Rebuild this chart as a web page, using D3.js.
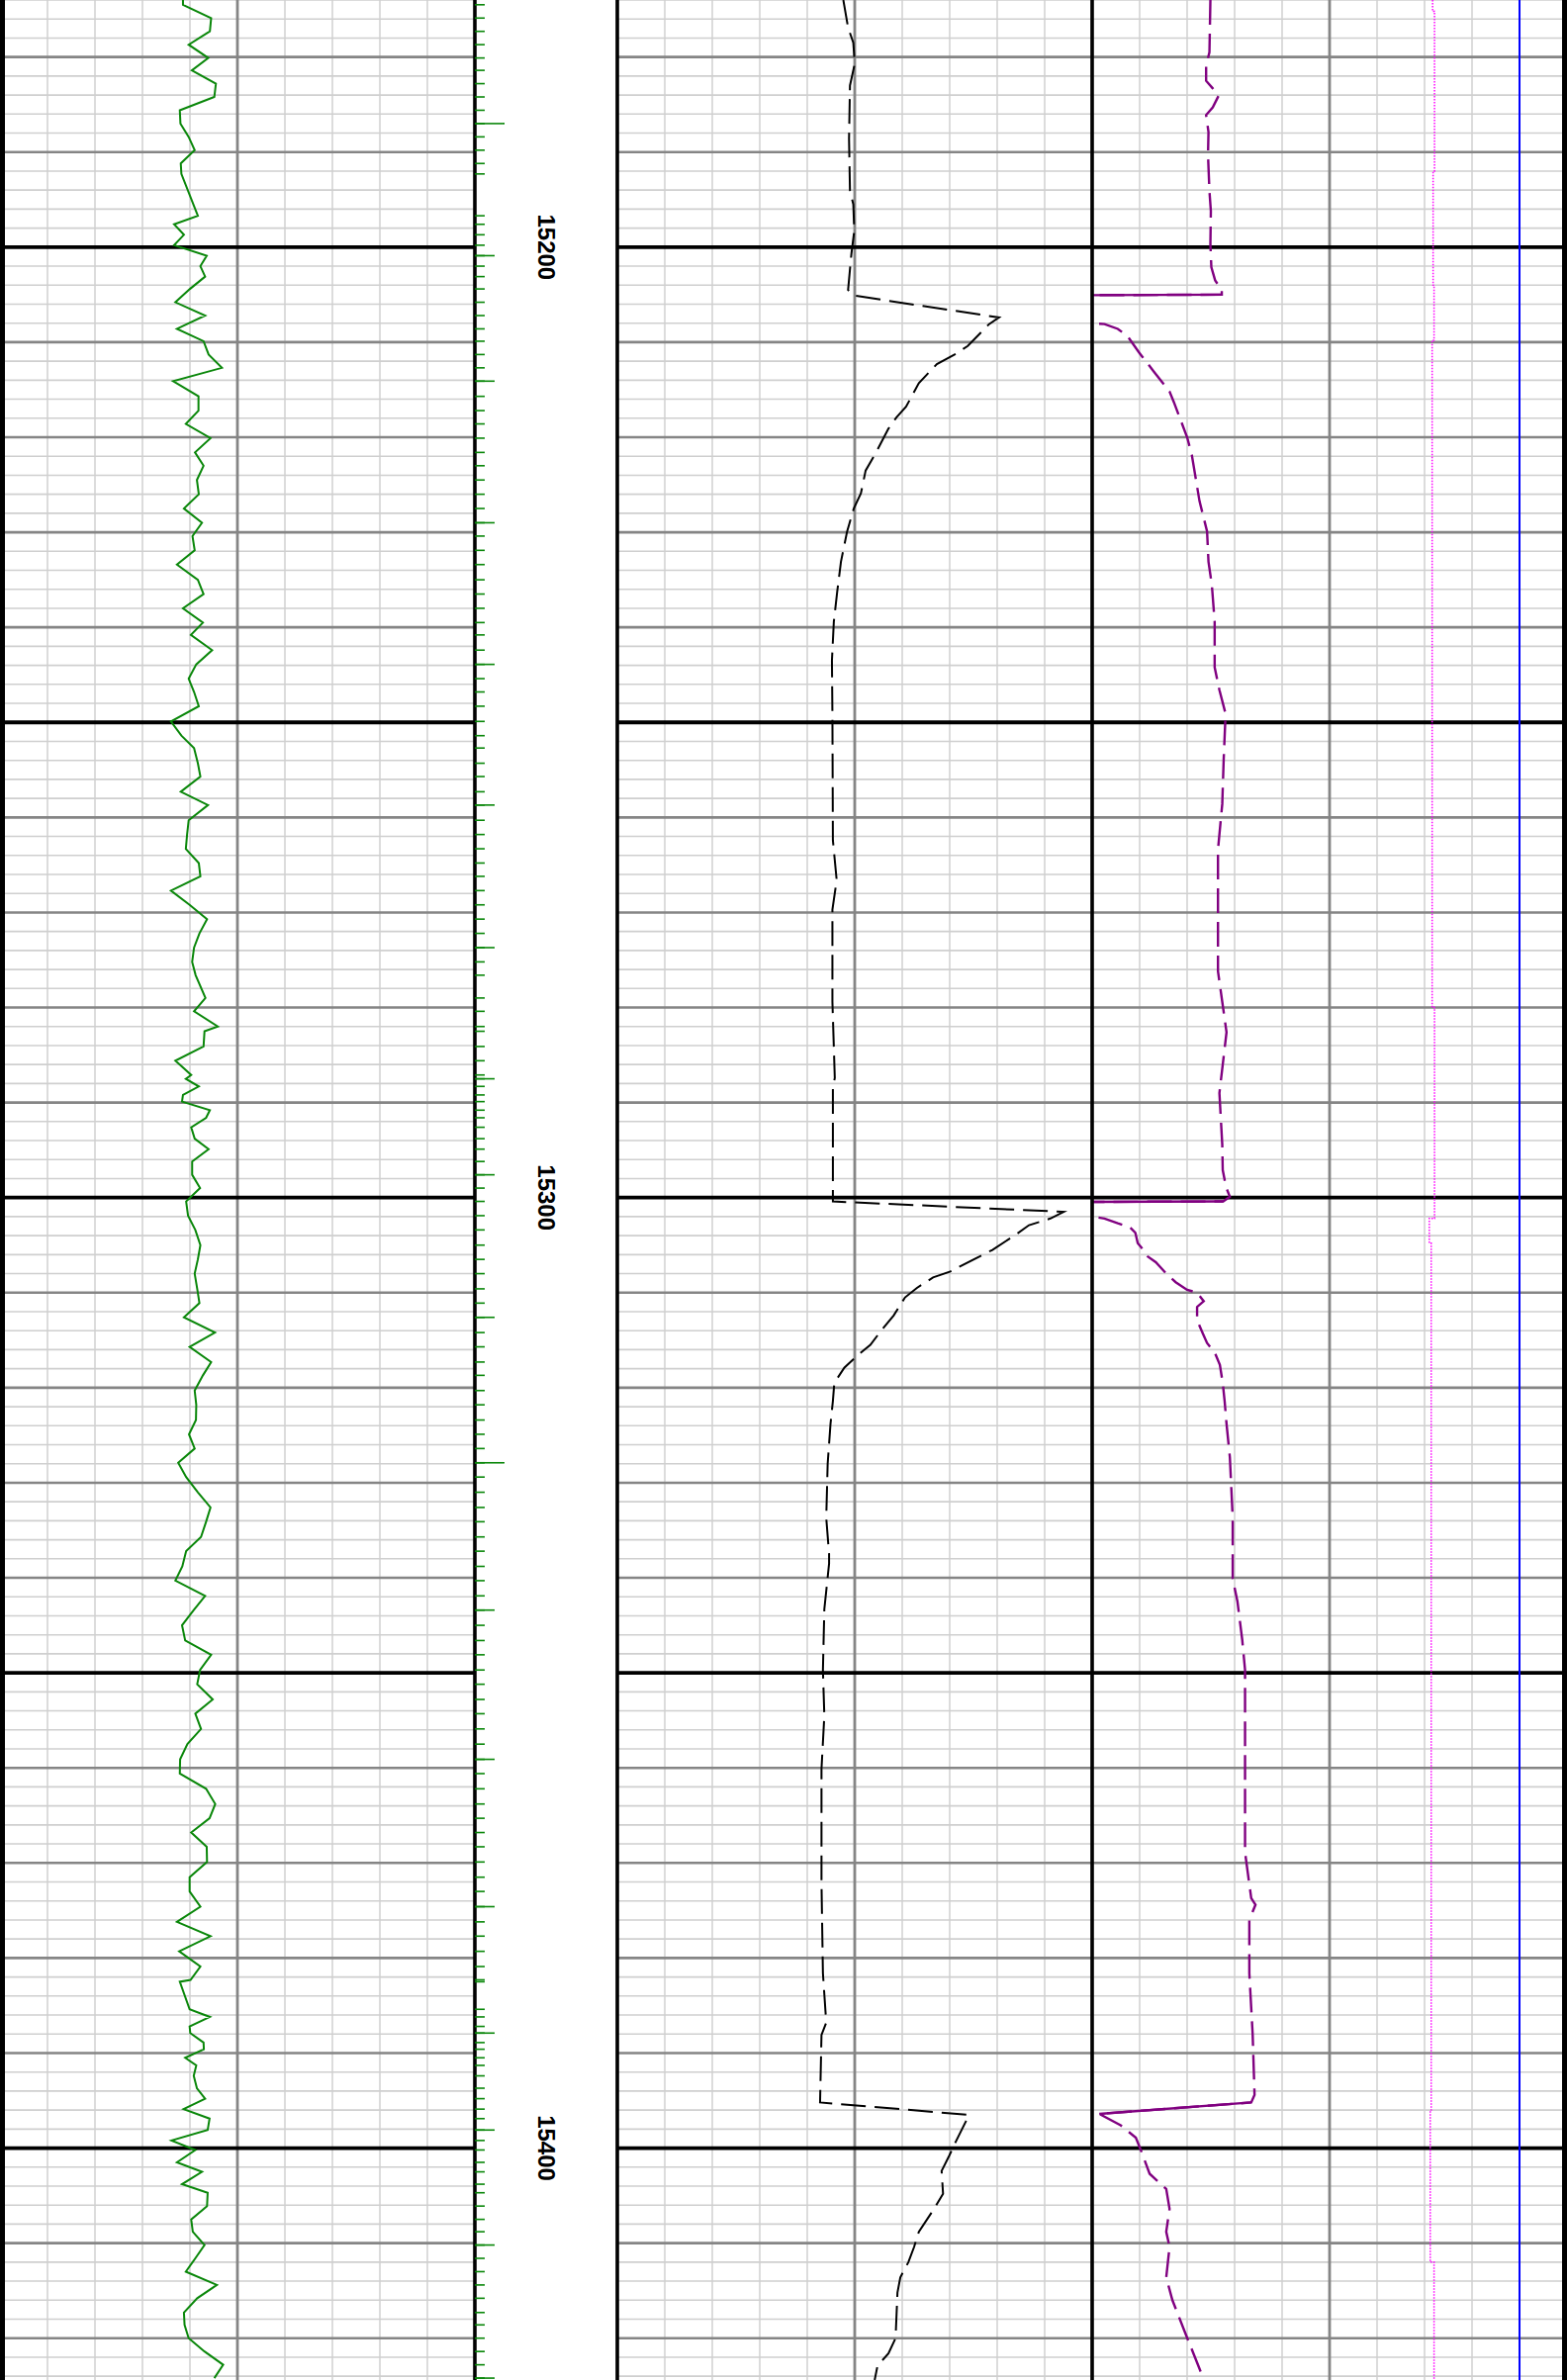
<!DOCTYPE html>
<html><head><meta charset="utf-8">
<script src="https://cdn.jsdelivr.net/npm/d3@7"></script>
<style>body{margin:0;background:#fff}svg{display:block}</style>
</head><body><svg id="c" width="1584" height="2406"></svg>
<script>
// ---------- DATA ----------
const depthTop = 15174, depthBottom = 15424.4;
const depthLabels = [15200, 15300, 15400];

// Track 1 : green gamma-ray style curve (API, 0-150)
const grDepth = [15173.5,15174.5,15175.9,15177.3,15178.7,15180.1,15181.4,15182.8,15184.2,15185.6,
15187.0,15188.4,15189.8,15191.2,15192.3,15196.7,15197.6,15198.7,15199.8,15200.9,
15202.0,15203.1,15204.4,15205.8,15207.2,15208.6,15209.9,15211.3,15212.7,15214.1,
15215.7,15217.2,15218.6,15220.1,15221.6,15223.0,15224.5,15226.0,15227.5,15229.0,
15230.4,15231.9,15233.4,15235.0,15236.5,15238.0,15239.5,15240.8,15242.4,15243.9,
15245.4,15246.8,15248.3,15249.9,15251.4,15252.7,15254.3,15255.7,15257.3,15258.7,
15260.3,15261.8,15263.3,15264.8,15266.2,15267.7,15269.2,15270.7,15272.2,15273.7,
15275.2,15276.6,15279.0,15280.4,15282.0,15282.5,15284.1,15285.6,15287.1,15287.5,
15288.3,15289.2,15289.9,15290.8,15291.6,15292.6,15293.8,15294.9,15296.2,15297.6,
15299.0,15300.4,15301.9,15303.4,15305.0,15306.5,15308.0,15309.6,15311.1,15312.6,
15314.2,15315.7,15317.3,15318.7,15320.3,15321.8,15323.4,15324.9,15326.4,15327.9,
15329.4,15331.0,15332.6,15334.1,15335.7,15337.2,15338.8,15340.3,15341.9,15343.4,
15345.0,15346.6,15348.1,15349.7,15351.2,15352.8,15354.3,15355.9,15357.5,15359.1,
15360.6,15362.2,15363.8,15365.3,15366.8,15368.3,15369.9,15371.5,15373.0,15374.6,
15376.2,15377.7,15379.3,15380.9,15382.3,15382.5,15385.4,15386.2,15387.2,15387.9,
15388.9,15389.6,15390.5,15391.3,15392.4,15393.7,15394.8,15395.9,15396.9,15398.1,
15399.2,15400.2,15401.5,15402.5,15403.8,15404.7,15406.1,15407.5,15408.8,15410.2,
15411.6,15413.0,15414.4,15415.8,15417.3,15418.6,15420.0,15421.4,15422.8,15424.2];
const grValue = [57.8,57.8,66.7,66.3,59.6,65.8,60.6,68.2,67.7,56.8,
57.0,59.6,61.5,57.1,57.3,62.5,55.0,58.1,55.0,65.3,
63.3,64.8,60.0,55.4,64.8,55.9,64.3,65.9,70.1,54.7,
62.7,62.7,58.7,66.5,61.6,64.3,62.2,62.8,58.1,63.8,
60.8,61.5,55.9,62.5,64.3,57.8,64.1,60.3,67.0,62.0,
59.6,61.3,62.8,54.0,57.3,61.3,62.5,63.3,57.1,65.7,
59.6,59.1,58.7,62.8,63.3,54.0,59.9,65.4,63.0,61.3,
60.7,61.8,64.9,61.3,68.8,64.6,64.3,55.4,60.4,58.7,
62.8,57.8,57.5,66.3,65.1,60.4,61.5,65.9,60.7,60.7,
63.2,58.8,59.4,61.7,63.3,62.5,61.5,62.3,63.0,58.1,
67.9,59.9,66.7,64.1,61.5,62.0,61.9,59.7,61.5,56.3,
58.8,62.5,66.5,65.1,63.5,58.8,57.6,55.4,64.8,61.2,
57.5,58.5,66.7,63.2,62.3,67.2,61.7,63.5,59.2,56.9,
56.8,65.1,68.0,66.2,60.4,65.3,65.4,59.9,59.9,63.3,
55.9,66.5,56.6,63.3,60.2,56.8,59.9,66.3,59.9,60.1,
64.3,64.4,58.5,62.0,61.2,62.2,64.8,58.0,66.2,65.6,
54.2,61.7,55.9,63.8,57.5,65.6,65.4,60.4,60.9,64.6,
61.7,58.7,68.5,62.3,58.1,58.3,59.6,64.6,70.5,67.7];

// Depth-track marks
const mediumMarkDepth = [15200.9,15214.1,15229.0,15243.9,15258.7,15273.7,15287.5,15297.6,15312.6,
15343.4,15359.1,15374.6,15387.9,15398.1,15410.2,15424.2];
const longMarkDepth = [15187.0,15327.9];

// Track 2 : black dashed curve (scale 0-100)
const blackDepth = [15174.0,15176.9,15178.5,15180.7,15183.0,15188.6,15194.1,15195.5,15198.3,15200.7,
15204.5,15205.1,15207.4,15208.1,15210.4,15211.2,15212.3,15214.3,15216.8,15217.9,
15219.1,15221.5,15223.5,15225.9,15227.5,15229.9,15233.1,15236.3,15239.4,15243.5,
15249.1,15262.4,15266.6,15269.7,15279.4,15287.4,15288.5,15300.4,15301.5,15302.2,
15302.9,15303.9,15305.5,15307.8,15308.4,15309.5,15310.5,15312.4,15314.1,15315.5,
15316.6,15317.9,15319.5,15321.4,15323.8,15328.0,15333.7,15337.5,15338.5,15343.3,
15349.7,15354.5,15360.1,15372.1,15381.6,15386.8,15388.1,15395.2,15396.5,15397.2,
15399.3,15400.8,15402.4,15404.8,15406.4,15408.8,15410.4,15412.0,15413.6,15415.2,
15420.0,15421.6,15422.9,15424.4];
const blackValue = [47.6,48.6,49.7,50.0,49.0,48.8,49.0,49.7,49.9,49.3,
48.6,49.9,80.4,78.3,73.8,71.4,67.3,63.5,60.8,58.8,
57.1,54.6,52.3,51.3,49.8,48.4,47.1,46.3,45.6,45.2,
45.3,45.4,46.2,45.3,45.3,45.8,45.4,45.4,94.0,91.2,
86.7,83.9,79.0,70.0,66.5,63.1,60.6,58.2,55.4,53.3,
50.6,47.8,45.7,45.4,44.9,44.3,44.0,44.6,44.6,43.6,
43.3,43.6,43.0,43.0,43.3,44.0,43.0,42.7,74.0,73.4,
71.3,69.9,68.3,68.6,66.7,63.5,62.5,61.3,59.6,59.0,
58.6,57.1,54.8,54.2];

// Track 3 : purple dashed curve (scale 0-100)
const purpleDepth = [15174.0,15179.5,15180.9,15182.5,15183.3,15184.1,15185.3,15186.1,15187.9,15190.3,
15194.1,15196.2,15199.7,15202.1,15203.5,15204.5,15205.0,15205.05,15208.0,15208.1,
15208.6,15209.4,15211.1,15213.1,15215.2,15216.3,15220.0,15221.9,15226.7,15229.9,
15233.1,15235.5,15239.4,15244.2,15246.6,15249.1,15253.9,15258.6,15263.4,15269.8,
15276.2,15279.4,15282.6,15289.0,15294.4,15297.1,15298.9,15299.9,15300.4,15300.45,
15302.0,15302.2,15302.7,15303.1,15303.7,15304.8,15305.2,15306.2,15306.8,15308.1,
15308.9,15309.7,15310.0,15310.9,15311.5,15312.9,15314.3,15315.3,15316.4,15317.6,
15319.5,15321.4,15323.8,15327.3,15333.7,15340.1,15342.5,15346.5,15349.7,15360.9,
15368.9,15373.7,15374.4,15376.0,15381.6,15388.0,15394.4,15395.2,15396.4,15397.6,
15398.9,15400.4,15402.7,15404.3,15406.4,15408.8,15410.4,15413.6,15416.0,15419.2,
15423.2,15424.4];
const purpleValue = [24.9,24.7,24.0,24.0,25.4,26.6,25.4,24.0,24.5,24.4,
24.7,25.0,24.9,25.1,25.9,27.3,27.3,0,0,2.6,
5.4,7.5,9.9,13.0,16.3,17.2,20.0,21.0,22.6,24.2,
24.5,25.2,25.8,25.8,26.8,28.1,27.7,27.4,26.5,26.5,
26.5,27.4,28.3,26.8,27.4,27.5,28.2,29.0,27.6,0,
0,2.6,5.4,7.9,9.1,9.6,10.3,11.7,13.4,15.8,
17.6,20.0,22.1,23.5,22.1,22.1,23.3,24.2,25.9,26.9,
27.5,27.9,28.3,29.0,29.6,29.6,30.6,31.6,32.2,32.2,
32.2,33.5,34.4,33.1,33.1,33.8,34.2,33.5,1.5,6.0,
9.2,10.4,12.1,15.6,16.3,15.6,16.3,15.6,16.9,19.4,
22.6,23.5];
// solid connector strokes of the purple curve: [depth, value] from -> to
const purpleDropFrom = [[15205.0,27.3],[15300.4,27.6],[15395.2,33.5]];
const purpleDropTo   = [[15205.05,0],[15300.45,0],[15396.4,1.5]];

// Track 3 : magenta dotted curve (scale 0-100)
const pinkDepth = [15174.0,15175.2,15175.2,15192.0,15192.0,15204.0,15204.0,15209.8,15209.8,15280.0,
15280.0,15302.2,15302.2,15304.8,15304.8,15396.0,15396.0,15412.0,15412.0,15424.4];
const pinkValue = [71.7,71.7,72.1,72.1,71.8,71.8,72.0,72.0,71.6,71.6,
72.1,72.1,71.0,71.0,71.4,71.4,71.2,71.2,72.0,72.0];

// Track 3 : blue constant curve
const blueDepth = [15174.0, 15424.4];
const blueValue = [90, 90];

// ---------- SCALES ----------
const W = 1584, H = 2406;
const y = d3.scaleLinear().domain([depthTop, depthBottom]).range([0, H]);
const x1 = d3.scaleLinear().domain([0, 150]).range([0, 480]);
const x2 = d3.scaleLinear().domain([0, 100]).range([624, 1104]);
const x3 = d3.scaleLinear().domain([0, 100]).range([1104, 1584]);
const zip = (a, b) => a.map((d, i) => [d, b[i]]);

const svg = d3.select('#c');
svg.append('rect').attr('width', W).attr('height', H).attr('fill', '#fff');

// clip paths
const defs = svg.append('defs');
[['c1', 0, 480], ['c2', 624, 480], ['c3', 1104, 480]].forEach(([id, x, w]) => {
  defs.append('clipPath').attr('id', id).append('rect').attr('x', x).attr('y', 0).attr('width', w).attr('height', H);
});

// ---------- GRID ----------
const grid = svg.append('g');
const tracks = [x1, x2, x3];
// vertical light lines
tracks.forEach(sc => {
  const [a, b] = sc.domain();
  const ticks = d3.range(0, 11).map(i => a + (b - a) * i / 10);
  ticks.forEach((t, i) => {
    if (i === 0 || i === 10 || i === 5) return;
    grid.append('line').attr('x1', sc(t)).attr('x2', sc(t)).attr('y1', 0).attr('y2', H)
      .attr('stroke', '#d4d4d4').attr('stroke-width', 1.6);
  });
});
const hDepths = d3.range(15174, 15425, 2);
const segs = [[0, 480], [624, 1584]];
function hlines(list, color, width) {
  list.forEach(d => segs.forEach(([a, b]) => {
    grid.append('line').attr('x1', a).attr('x2', b).attr('y1', y(d)).attr('y2', y(d))
      .attr('stroke', color).attr('stroke-width', width);
  }));
}
hlines(hDepths.filter(d => d % 10 !== 0), '#cfcfcf', 1.6);
// vertical dark centre lines
tracks.forEach(sc => {
  const [a, b] = sc.domain();
  const t = (a + b) / 2;
  grid.append('line').attr('x1', sc(t)).attr('x2', sc(t)).attr('y1', 0).attr('y2', H)
    .attr('stroke', '#858585').attr('stroke-width', 2.8);
});
hlines(hDepths.filter(d => d % 10 === 0 && d % 50 !== 0), '#858585', 2.6);
hlines(hDepths.filter(d => d % 50 === 0), '#000', 3.8);

// ---------- CURVES ----------
const line = sc => d3.line().x(d => sc(d[1])).y(d => y(d[0]));

svg.append('path').attr('clip-path', 'url(#c1)')
  .datum(zip(grDepth, grValue)).attr('d', line(x1))
  .attr('fill', 'none').attr('stroke', '#0a870a').attr('stroke-width', 2).attr('stroke-linejoin', 'miter');

svg.append('path').attr('clip-path', 'url(#c2)')
  .datum(zip(blackDepth, blackValue)).attr('d', line(x2))
  .attr('fill', 'none').attr('stroke', '#000').attr('stroke-width', 2)
  .attr('stroke-dasharray', '25,9');

const g3 = svg.append('g').attr('clip-path', 'url(#c3)');
g3.append('path').datum(zip(blueDepth, blueValue)).attr('d', line(x3))
  .attr('fill', 'none').attr('stroke', '#0000ff').attr('stroke-width', 2);
g3.append('path').datum(zip(pinkDepth, pinkValue)).attr('d', line(x3))
  .attr('fill', 'none').attr('stroke', '#ff00ff').attr('stroke-width', 1.5)
  .attr('stroke-dasharray', '1.5,1.5');
g3.append('path').datum(zip(purpleDepth, purpleValue)).attr('d', line(x3))
  .attr('fill', 'none').attr('stroke', '#800080').attr('stroke-width', 2.4)
  .attr('stroke-dasharray', '25,9');
purpleDropFrom.forEach((f, i) => {
  g3.append('path').datum([f, purpleDropTo[i]]).attr('d', line(x3))
    .attr('fill', 'none').attr('stroke', '#800080').attr('stroke-width', 2.4);
});

// ---------- BORDERS ----------
const borders = svg.append('g');
[[2.5, 5], [480, 3.6], [624, 3.6], [1104, 3.6], [1581.5, 5]].forEach(([x, w]) => {
  borders.append('line').attr('x1', x).attr('x2', x).attr('y1', 0).attr('y2', H)
    .attr('stroke', '#000').attr('stroke-width', w);
});

// ---------- DEPTH TRACK MARKS ----------
const marks = svg.append('g').attr('stroke', '#0a870a').attr('stroke-width', 1.6);
grDepth.filter(d => y(d) >= 0 && y(d) <= H).forEach(d => {
  marks.append('line').attr('x1', 480).attr('x2', 490).attr('y1', y(d)).attr('y2', y(d));
});
mediumMarkDepth.forEach(d => {
  marks.append('line').attr('x1', 480).attr('x2', 500).attr('y1', y(d)).attr('y2', y(d));
});
longMarkDepth.forEach(d => {
  marks.append('line').attr('x1', 480).attr('x2', 510).attr('y1', y(d)).attr('y2', y(d));
});

// ---------- DEPTH LABELS ----------
depthLabels.forEach(d => {
  svg.append('text')
    .attr('x', 552).attr('y', y(d))
    .attr('transform', `rotate(90,552,${y(d)})`)
    .attr('text-anchor', 'middle').attr('dominant-baseline', 'central')
    .attr('font-family', '"Liberation Sans", Arial, sans-serif')
    .attr('font-weight', 'bold').attr('font-size', 24).attr('fill', '#000')
    .text(d);
});
</script>
</body></html>
